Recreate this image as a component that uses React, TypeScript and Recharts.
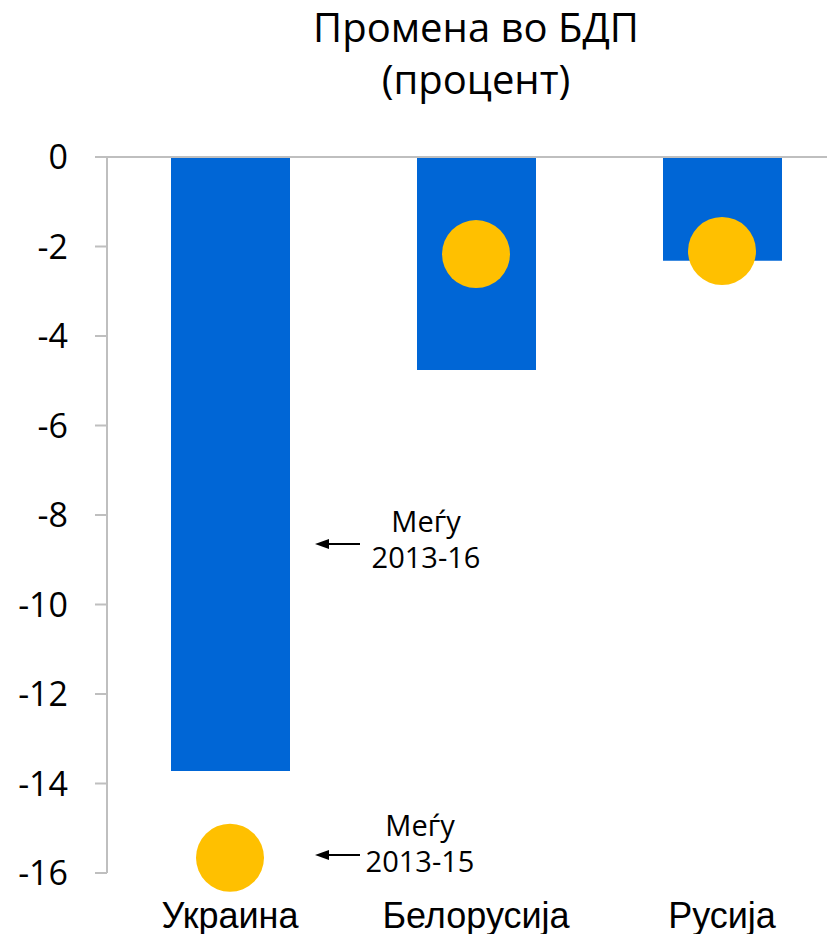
import React from "react";
import { ComposedChart, Bar, Scatter, XAxis, YAxis, ReferenceLine } from "recharts";

const categories = ["Украина", "Белорусија", "Русија"];
const change2016 = [-13.72, -4.76, -2.32];
const change2015 = [-15.66, -2.17, -2.1];
const yTicks = [0, -2, -4, -6, -8, -10, -12, -14, -16];
const titleLines = ["Промена во БДП", "(процент)"];
const noteA = ["Меѓу", "2013-16"];
const noteB = ["Меѓу", "2013-15"];

const data = categories.map((name, i) => ({ name, v16: change2016[i], v15: change2015[i] }));

const FONT = "'Open Sans', 'Noto Sans', sans-serif";
const CAT_FONT = "'Liberation Sans', Arial, sans-serif";

const Dot = (props: any) => {
  const { cx, cy } = props;
  if (cx == null || cy == null) return null;
  return <circle cx={cx} cy={cy} r={34} fill="#FFC000" />;
};

const Note = ({ lines, x, y, ax, ay }: { lines: string[]; x: number; y: number; ax: number; ay: number }) => (
  <g>
    <text x={x} y={y} textAnchor="middle" fontSize={29} fontFamily={FONT} fill="#000">
      <tspan x={x} dy={0}>{lines[0]}</tspan>
      <tspan x={x} dy={36}>{lines[1]}</tspan>
    </text>
    <line x1={ax + 12} y1={ay} x2={ax + 45} y2={ay} stroke="#000" strokeWidth={2} />
    <polygon points={`${ax},${ay} ${ax + 14},${ay - 5} ${ax + 14},${ay + 5}`} fill="#000" />
  </g>
);

export default function App() {
  return (
    <div style={{ position: "relative", width: 835, height: 942, overflow: "hidden", margin: -8, background: "#fff" }}>
      <svg width={835} height={130} style={{ position: "absolute", left: 0, top: 0 }}>
        <text x={476} y={42} textAnchor="middle" fontSize={40} fontFamily={FONT} fill="#000">{titleLines[0]}</text>
        <text x={476} y={94} textAnchor="middle" fontSize={40} fontFamily={FONT} fill="#000">{titleLines[1]}</text>
      </svg>
      <div style={{ position: "absolute", left: 0, top: 0 }}>
        <ComposedChart width={845} height={942} data={data} margin={{ top: 157, right: 0, bottom: 0, left: 0 }}>
          <XAxis
            dataKey="name"
            axisLine={false}
            tickLine={false}
            tickSize={0}
            tickMargin={29}
            height={69}
            interval={0}
            tick={{ fill: "#000", fontSize: 36, fontFamily: CAT_FONT }}
          />
          <YAxis
            domain={[-16, 0]}
            ticks={yTicks}
            width={107}
            tickSize={12}
            tickMargin={27}
            axisLine={{ stroke: "#BFBFBF", strokeWidth: 2 }}
            tickLine={{ stroke: "#BFBFBF", strokeWidth: 2 }}
            tick={{ fill: "#000", fontSize: 34, fontFamily: FONT }}
          />
          <ReferenceLine y={0} stroke="#BFBFBF" strokeWidth={2} />
          <Bar dataKey="v16" fill="#0066D6" barSize={119} isAnimationActive={false} />
          <Scatter dataKey="v15" shape={<Dot />} isAnimationActive={false} />
        </ComposedChart>
      </div>
      <svg width={835} height={942} style={{ position: "absolute", left: 0, top: 0, pointerEvents: "none" }}>
        <Note lines={noteA} x={426} y={532} ax={315} ay={544} />
        <Note lines={noteB} x={420} y={836} ax={315} ay={855} />
      </svg>
    </div>
  );
}
